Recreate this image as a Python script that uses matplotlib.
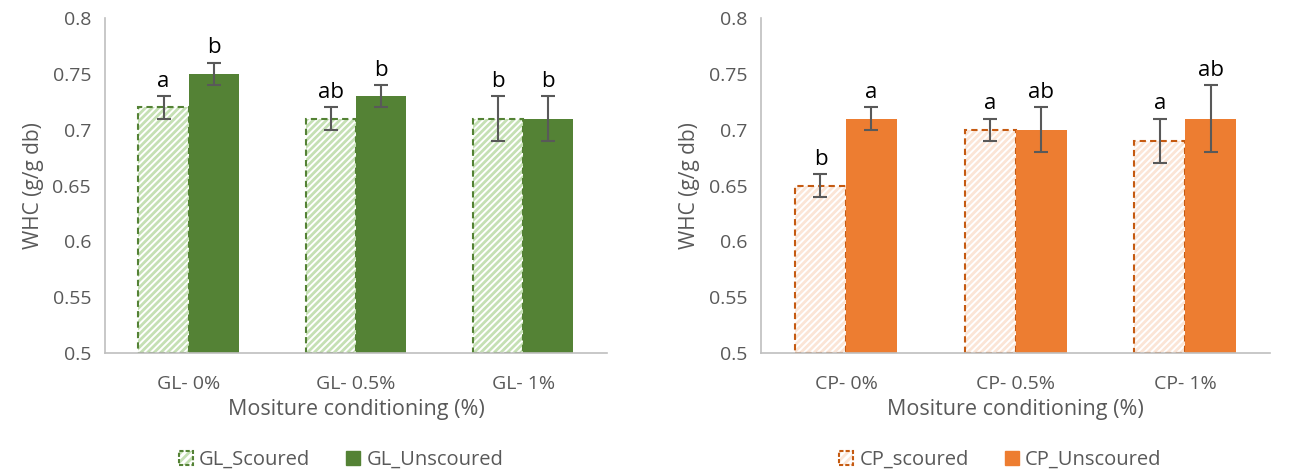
import matplotlib.pyplot as plt
import numpy as np

plt.rcParams["font.family"] = ["Open Sans", "DejaVu Sans"]
plt.rcParams["hatch.linewidth"] = 2.0

gl_cats = ["GL- 0%", "GL- 0.5%", "GL- 1%"]
gl_scoured = [0.72, 0.71, 0.71]
gl_scoured_err = [0.01, 0.01, 0.02]
gl_unscoured = [0.75, 0.73, 0.71]
gl_unscoured_err = [0.01, 0.01, 0.02]
gl_scoured_lbl = ["a", "ab", "b"]
gl_unscoured_lbl = ["b", "b", "b"]

cp_cats = ["CP- 0%", "CP- 0.5%", "CP- 1%"]
cp_scoured = [0.65, 0.70, 0.69]
cp_scoured_err = [0.01, 0.01, 0.02]
cp_unscoured = [0.71, 0.70, 0.71]
cp_unscoured_err = [0.01, 0.02, 0.03]
cp_scoured_lbl = ["b", "a", "a"]
cp_unscoured_lbl = ["a", "ab", "ab"]

grey = "#595959"


def panel(ax, cats, s, s_err, u, u_err, s_lbl, u_lbl, dark, light, dash, names):
    x = np.arange(len(cats))
    w = 0.3
    base = 0.5
    s = np.array(s)
    u = np.array(u)
    # hatched scoured bars, then a dashed outline on top
    ax.bar(x - w / 2, s - base, w, bottom=base, color="white", edgecolor=light,
           hatch="/////", linewidth=0)
    ax.bar(x - w / 2, s - base, w, bottom=base, fill=False, edgecolor=dash,
           linestyle=(0, (3, 2)), linewidth=1.5)
    ax.bar(x + w / 2, u - base, w, bottom=base, color=dark)
    ax.errorbar(x - w / 2, s, yerr=s_err, fmt="none", ecolor=grey, capsize=5, lw=1.5, capthick=1.5)
    ax.errorbar(x + w / 2, u, yerr=u_err, fmt="none", ecolor=grey, capsize=5, lw=1.5, capthick=1.5)
    for i in range(len(cats)):
        ax.text(x[i] - w / 2, s[i] + s_err[i] + 0.004, s_lbl[i], ha="center", va="bottom", fontsize=16)
        ax.text(x[i] + w / 2, u[i] + u_err[i] + 0.004, u_lbl[i], ha="center", va="bottom", fontsize=16)
    ax.set_xlim(-0.5, len(cats) - 0.5)
    ax.set_ylim(0.5, 0.8)
    ticks = np.arange(0.5, 0.801, 0.05).round(2)
    ax.set_yticks(ticks)
    ax.set_yticklabels([f"{v:g}" for v in ticks])
    ax.set_xticks(x)
    ax.set_xticklabels(cats)
    ax.tick_params(axis="both", length=0, labelsize=14, colors=grey)
    ax.tick_params(axis="x", pad=16)
    ax.tick_params(axis="y", pad=10)
    for sp in ["top", "right"]:
        ax.spines[sp].set_visible(False)
    for sp in ["bottom", "left"]:
        ax.spines[sp].set_color("#bfbfbf")
        ax.spines[sp].set_linewidth(1.2)
    ax.set_ylabel("WHC (g/g db)", fontsize=15, color=grey, labelpad=6)
    ax.set_xlabel("Mositure conditioning (%)", fontsize=15.5, color=grey, labelpad=4)
    h1 = plt.Rectangle((0, 0), 1, 1, facecolor="white", edgecolor=light, hatch="////", lw=0)
    h1b = plt.Rectangle((0, 0), 1, 1, fill=False, edgecolor=dash, linestyle=(0, (2, 1)), lw=1.5)
    h2 = plt.Rectangle((0, 0), 1, 1, color=dark)
    ax.legend([(h1, h1b), h2], names, loc="upper center", bbox_to_anchor=(0.47, -0.235),
              ncol=2, frameon=False, fontsize=14.5, labelcolor=grey, handlelength=0.7,
              handleheight=0.7, handletextpad=0.3, columnspacing=1.8)


fig = plt.figure(figsize=(12.9, 4.75), dpi=100)
ax1 = fig.add_axes([0.0814, 0.2568, 0.389, 0.705])
ax2 = fig.add_axes([0.590, 0.2568, 0.3946, 0.705])
panel(ax1, gl_cats, gl_scoured, gl_scoured_err, gl_unscoured, gl_unscoured_err,
      gl_scoured_lbl, gl_unscoured_lbl, "#548235", "#c5e0b4", "#548235",
      ["GL_Scoured", "GL_Unscoured"])
panel(ax2, cp_cats, cp_scoured, cp_scoured_err, cp_unscoured, cp_unscoured_err,
      cp_scoured_lbl, cp_unscoured_lbl, "#ed7d31", "#fbe5d6", "#c55a11",
      ["CP_scoured", "CP_Unscoured"])

fig.savefig("out.png", dpi=100)
